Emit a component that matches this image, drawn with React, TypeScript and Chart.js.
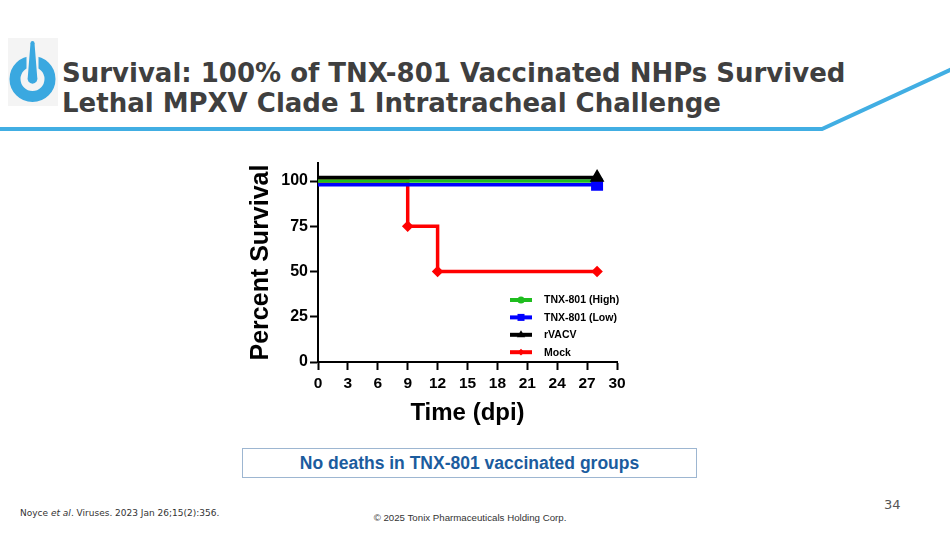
import React, { useEffect, useRef } from "react";
import { Chart, registerables } from "chart.js";

Chart.register(...registerables);

// ---- data ----
const seriesLabels = ["TNX-801 (High)", "TNX-801 (Low)", "rVACV", "Mock"];
const timeHigh = [0, 28];
const survHigh = [100, 100];
const timeLow = [0, 28];
const survLow = [98, 98];
const timeRvacv = [0, 28];
const survRvacv = [102, 102];
const timeMock = [0, 9, 12, 28];
const survMock = [100, 75, 50, 50];
const xTicks = [0, 3, 6, 9, 12, 15, 18, 21, 24, 27, 30];
const yTicks = [0, 25, 50, 75, 100];

const colors = ["#1fbd1f", "#0000ff", "#000000", "#ff0000"];
const styles = ["circle", "rect", "triangle", "rectRot"];

const FONT = "'Liberation Sans', Arial, sans-serif";

function toPoints(xs: number[], ys: number[]) {
  return xs.map((x, i) => ({ x, y: ys[i] }));
}

function drawMarker(ctx: CanvasRenderingContext2D, style: string, x: number, y: number, r: number, color: string) {
  ctx.save();
  ctx.fillStyle = color;
  ctx.beginPath();
  if (style === "circle") {
    ctx.arc(x, y, r, 0, Math.PI * 2);
  } else if (style === "rect") {
    ctx.rect(x - r, y - r, 2 * r, 2 * r);
  } else if (style === "triangle") {
    ctx.moveTo(x, y - r * 1.1);
    ctx.lineTo(x + r, y + r * 0.6);
    ctx.lineTo(x - r, y + r * 0.6);
    ctx.closePath();
  } else {
    ctx.moveTo(x, y - r);
    ctx.lineTo(x + r, y);
    ctx.lineTo(x, y + r);
    ctx.lineTo(x - r, y);
    ctx.closePath();
  }
  ctx.fill();
  ctx.restore();
}

const legendPlugin = {
  id: "kmLegend",
  afterDatasetsDraw(chart: any) {
    const { ctx, chartArea } = chart;
    const lineX0 = chartArea.left + 192;
    const lineX1 = lineX0 + 22;
    const textX = chartArea.left + 226;
    const y0 = chartArea.top + 137;
    const dy = 17.4;
    const sizes = [3.6, 3.5, 4.2, 3.4];
    chart.data.datasets.forEach((ds: any, i: number) => {
      const y = y0 + i * dy;
      ctx.save();
      ctx.strokeStyle = ds.borderColor;
      ctx.lineWidth = 4;
      ctx.beginPath();
      ctx.moveTo(lineX0, y);
      ctx.lineTo(lineX1, y);
      ctx.stroke();
      drawMarker(ctx, styles[i], (lineX0 + lineX1) / 2, y, sizes[i], ds.borderColor);
      ctx.fillStyle = "#000";
      ctx.font = `bold 10.5px ${FONT}`;
      ctx.textBaseline = "middle";
      ctx.textAlign = "left";
      ctx.fillText(ds.label, textX, y + 0.5);
      ctx.restore();
    });
  },
};

function SurvivalChart() {
  const ref = useRef<HTMLCanvasElement | null>(null);
  useEffect(() => {
    if (!ref.current) return;
    const lastOnly = (n: number, r: number) => (ctx: any) => (ctx.dataIndex === n - 1 ? r : 0);
    const chart = new Chart(ref.current, {
      type: "line",
      data: {
        datasets: [
          {
            label: seriesLabels[0],
            data: toPoints(timeHigh, survHigh),
            borderColor: colors[0],
            backgroundColor: colors[0],
            borderWidth: 3.5,
            stepped: true,
            pointStyle: "circle",
            pointRadius: lastOnly(timeHigh.length, 4),
            order: 3,
          },
          {
            label: seriesLabels[1],
            data: toPoints(timeLow, survLow),
            borderColor: colors[1],
            backgroundColor: colors[1],
            borderWidth: 3.5,
            stepped: true,
            pointStyle: "rect",
            pointRadius: lastOnly(timeLow.length, 6),
            order: 2,
          },
          {
            label: seriesLabels[2],
            data: toPoints(timeRvacv, survRvacv),
            borderColor: colors[2],
            backgroundColor: colors[2],
            borderWidth: 3.5,
            stepped: true,
            pointStyle: "triangle",
            pointRadius: lastOnly(timeRvacv.length, 5),
            order: 1,
          },
          {
            label: seriesLabels[3],
            data: toPoints(timeMock, survMock),
            borderColor: colors[3],
            backgroundColor: colors[3],
            borderWidth: 3.5,
            stepped: true,
            pointStyle: "rectRot",
            pointRadius: (ctx: any) => (ctx.dataIndex === 0 ? 0 : 3.3),
            order: 4,
          },
        ],
      },
      options: {
        responsive: false,
        animation: false,
        layout: { padding: { top: 13, right: 23, left: 0, bottom: 0 } },
        plugins: { legend: { display: false }, tooltip: { enabled: false } },
        elements: { point: { borderWidth: 0, hoverRadius: 0 } },
        scales: {
          x: {
            type: "linear",
            min: 0,
            max: 30,
            afterBuildTicks: (s: any) => {
              s.ticks = xTicks.map((v) => ({ value: v }));
            },
            afterFit: (s: any) => {
              s.height = 73;
            },
            ticks: {
              autoSkip: false,
              maxRotation: 0,
              padding: 4,
              color: "#000",
              font: { family: FONT, size: 15.5, weight: "bold" },
            },
            grid: { drawOnChartArea: false, drawTicks: true, tickLength: 8, tickWidth: 2, tickColor: "#000" },
            border: { display: true, color: "#000", width: 2 },
            title: {
              display: true,
              text: "Time (dpi)",
              color: "#000",
              font: { family: FONT, size: 24, weight: "bold" },
              padding: { top: 0, bottom: 7 },
            },
          },
          y: {
            type: "linear",
            min: 0,
            max: 110,
            afterBuildTicks: (s: any) => {
              s.ticks = yTicks.map((v) => ({ value: v }));
            },
            afterFit: (s: any) => {
              s.width = 78;
            },
            ticks: {
              padding: 2,
              color: "#000",
              font: { family: FONT, size: 16, weight: "bold" },
            },
            grid: { drawOnChartArea: false, drawTicks: true, tickLength: 8, tickWidth: 2, tickColor: "#000" },
            border: { display: true, color: "#000", width: 2 },
            title: {
              display: true,
              text: "Percent Survival",
              color: "#000",
              font: { family: FONT, size: 25, weight: "bold" },
              padding: { top: 6, bottom: 0 },
            },
          },
        },
      } as any,
      plugins: [legendPlugin],
    });
    return () => chart.destroy();
  }, []);
  return (
    <canvas
      ref={ref}
      width={400}
      height={285}
      style={{ position: "absolute", left: 240, top: 150, width: 400, height: 285 }}
    />
  );
}

export default function App() {
  useEffect(() => {
    document.body.style.margin = "0";
  }, []);
  const titleStyle: React.CSSProperties = {
    position: "absolute",
    left: 62,
    fontFamily: "'DejaVu Sans', Verdana, sans-serif",
    fontWeight: "bold",
    fontSize: 26,
    lineHeight: "30px",
    color: "#3f3f3f",
    whiteSpace: "nowrap",
  };
  return (
    <div
      style={{
        position: "fixed",
        left: 0,
        top: 0,
        width: 950,
        height: 533,
        background: "#fff",
        overflow: "hidden",
      }}
    >
      <svg width={950} height={533} style={{ position: "absolute", left: 0, top: 0 }}>
        <rect x={8} y={38} width={50} height={68} fill="#f4f4f4" />
        <circle cx={32.5} cy={79} r={17.5} fill="none" stroke="#3aa8e0" strokeWidth={11} />
        <line x1={32.5} y1={44} x2={32.5} y2={74} stroke="#f4f4f4" strokeWidth={12} />
        <path d="M30.5 43 L34.5 43 L37.2 77 A5 5 0 1 1 27.8 77 Z" fill="#3aa8e0" />
        <circle cx={32.5} cy={43} r={2} fill="#3aa8e0" />
        <polyline points="0,129 822,129 952,69" fill="none" stroke="#41aee3" strokeWidth={4} />
      </svg>
      <div style={{ ...titleStyle, top: 58 }}>Survival: 100% of TNX-801 Vaccinated NHPs Survived</div>
      <div style={{ ...titleStyle, top: 88 }}>Lethal MPXV Clade 1 Intratracheal Challenge</div>
      <SurvivalChart />
      <div
        style={{
          position: "absolute",
          left: 242,
          top: 448,
          width: 453,
          height: 28,
          border: "1.5px solid #9db6d1",
          display: "flex",
          alignItems: "center",
          justifyContent: "center",
          fontFamily: FONT,
          fontWeight: "bold",
          fontSize: 17.5,
          color: "#1b5c9e",
        }}
      >
        No deaths in TNX-801 vaccinated groups
      </div>
      <div
        style={{
          position: "absolute",
          left: 20,
          top: 508,
          fontFamily: "'DejaVu Sans', Verdana, sans-serif",
          fontSize: 9,
          color: "#333",
          whiteSpace: "nowrap",
        }}
      >
        Noyce <i>et al</i>. Viruses. 2023 Jan 26;15(2):356.
      </div>
      <div
        style={{
          position: "absolute",
          left: 0,
          width: 940,
          top: 512,
          textAlign: "center",
          fontFamily: FONT,
          fontSize: 9.7,
          color: "#333",
        }}
      >
        © 2025 Tonix Pharmaceuticals Holding Corp.
      </div>
      <div
        style={{
          position: "absolute",
          left: 884,
          top: 497,
          fontFamily: "'DejaVu Sans', Verdana, sans-serif",
          fontSize: 13,
          color: "#555",
        }}
      >
        34
      </div>
    </div>
  );
}
